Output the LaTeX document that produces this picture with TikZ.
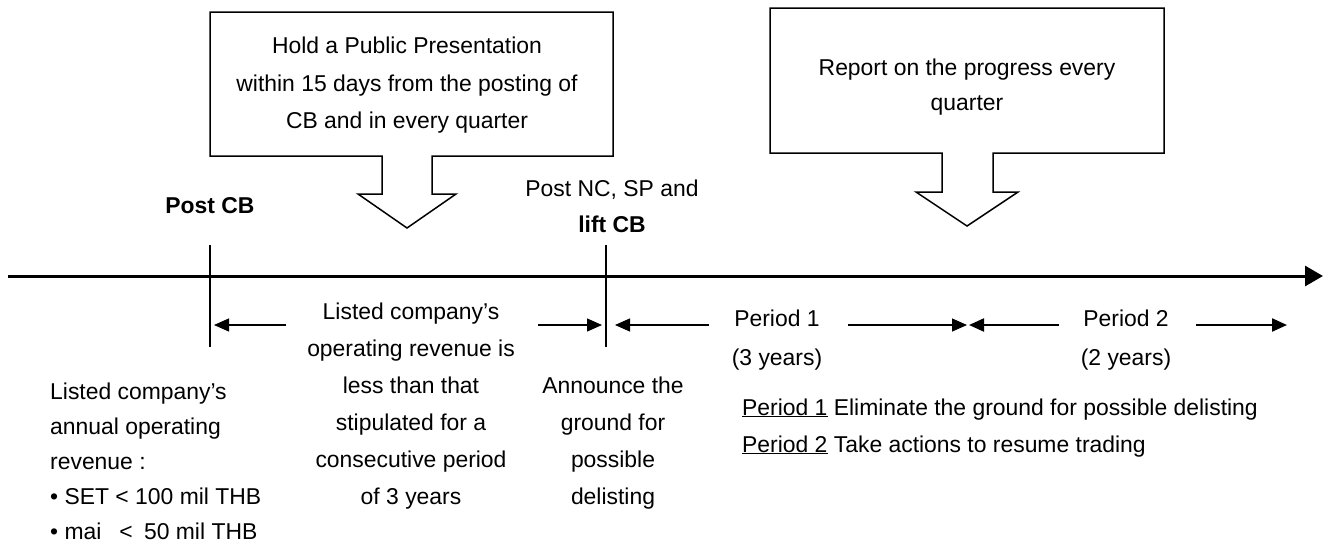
\documentclass[tikz,border=0pt]{standalone}
\usepackage{fontspec}
\setmainfont{Liberation Sans}
\usetikzlibrary{arrows.meta}
\begin{document}
\begin{tikzpicture}[x=1pt,y=-1pt,
  lbl/.style={anchor=base, inner sep=0pt, font=\fontsize{22.9}{36}\selectfont},
  lblw/.style={lbl, anchor=base west},
  callout/.style={draw, line width=1.5pt, line join=miter},
  axis/.style={line width=3pt, -{Triangle[length=18pt,width=20pt]}},
  stemline/.style={line width=1.6pt},
  span/.style={line width=1.2pt, -{Triangle[length=15pt,width=13pt]}},
  spanthick/.style={span, line width=2.2pt}]
\useasboundingbox (0,0) rectangle (1329,544);

% --- callout boxes pointing down at the time line
\draw[callout] (210,12) -- (613,12) -- (613,156) -- (432,156) -- (432,194)
  -- (456,194) -- (407,228) -- (358,194) -- (382,194) -- (382,156)
  -- (210,156) -- cycle;
\node[lbl] (pp1) at (407,53) {Hold a Public Presentation};
\node[lbl] (pp2) at (407,91) {within 15 days from the posting of};
\node[lbl] (pp3) at (407,128) {CB and in every quarter};

\draw[callout] (770,8) -- (1164,8) -- (1164,153) -- (993,153) -- (993,192)
  -- (1018,192) -- (967,226) -- (916,192) -- (942,192) -- (942,153)
  -- (770,153) -- cycle;
\node[lbl] (rp1) at (967,75) {Report on the progress every};
\node[lbl] (rp2) at (967,110) {quarter};

% --- time line and event marks
\coordinate (tl-start) at (8,276);
\coordinate (tl-end) at (1323,276);
\draw[axis] (tl-start) -- (tl-end);

\node[lbl] (postcb) at (210,213) {\bfseries Post CB};
\coordinate (cb-top) at (210,245);
\coordinate (cb-bot) at (210,347);
\draw[stemline] (cb-top) -- (cb-bot);

\node[lbl] (postnc) at (612,196) {Post NC, SP and};
\node[lbl] (liftcb) at (612,232) {\bfseries lift CB};
\coordinate (lift-top) at (606,245);
\coordinate (lift-bot) at (606,347);
\draw[stemline] (lift-top) -- (lift-bot);

% --- spans between the marks
\coordinate (s0a) at (286,325); \coordinate (s0b) at (214,325);
\coordinate (s0c) at (538,325); \coordinate (s0d) at (602,325);
\draw[span] (s0a) -- (s0b);
\draw[span] (s0c) -- (s0d);

\coordinate (s1a) at (709,325); \coordinate (s1b) at (615,325);
\coordinate (s1c) at (848,325); \coordinate (s1d) at (967,325);
\draw[span] (s1a) -- (s1b);
\draw[span] (s1c) -- (s1d);

\coordinate (s2a) at (1059,325); \coordinate (s2b) at (969,325);
\coordinate (s2c) at (1196,325); \coordinate (s2d) at (1287,325);
\draw[spanthick] (s2a) -- (s2b);
\draw[spanthick] (s2c) -- (s2d);

\node[lbl] (p1a) at (777,326) {Period 1};
\node[lbl] (p1b) at (777,365) {(3 years)};
\node[lbl] (p2a) at (1126,326) {Period 2};
\node[lbl] (p2b) at (1126,365) {(2 years)};

% --- middle description
\node[lbl] (m1) at (411,319) {Listed company’s};
\node[lbl] (m2) at (411,356) {operating revenue is};
\node[lbl] (m3) at (411,393) {less than that};
\node[lbl] (m4) at (411,430) {stipulated for a};
\node[lbl] (m5) at (411,467) {consecutive period};
\node[lbl] (m6) at (411,504) {of 3 years};

% --- left description
\node[lblw] (l1) at (50,399) {Listed company’s};
\node[lblw] (l2) at (50,434) {annual operating};
\node[lblw] (l3) at (50,469) {revenue :};
\node[lblw] (l4) at (50,504) {• SET < 100 mil THB};
\node[lblw] (l5) at (50,539) {• mai \enspace<\enspace 50 mil THB};

% --- announcement
\node[lbl] (a1) at (613,393) {Announce the};
\node[lbl] (a2) at (613,430) {ground for};
\node[lbl] (a3) at (613,467) {possible};
\node[lbl] (a4) at (613,504) {delisting};

% --- legend of the two periods
\node[lblw] (g1) at (742,415) {\underline{Period 1} Eliminate the ground for possible delisting};
\node[lblw] (g2) at (742,452) {\underline{Period 2} Take actions to resume trading};
\end{tikzpicture}
\end{document}
